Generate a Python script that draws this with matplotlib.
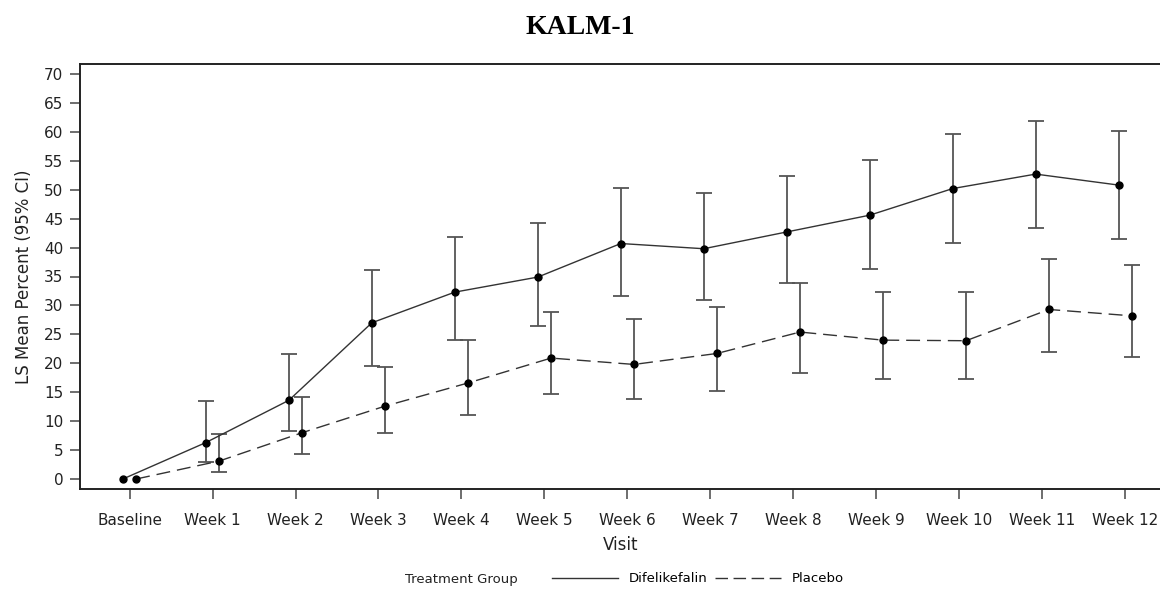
import numpy as np
import matplotlib
matplotlib.use("Agg")
from matplotlib import pyplot as plt
from matplotlib.lines import Line2D

visits = ["Baseline", "Week 1", "Week 2", "Week 3", "Week 4", "Week 5", "Week 6",
          "Week 7", "Week 8", "Week 9", "Week 10", "Week 11", "Week 12"]

# LS mean and 95% CI, difelikefalin
dif_mean = [0.0, 6.3, 13.6, 27.0, 32.3, 34.9, 40.7, 39.8, 42.7, 45.6, 50.2, 52.7, 50.8]
dif_low = [np.nan, 2.9, 8.3, 19.5, 24.0, 26.5, 31.7, 30.9, 33.8, 36.3, 40.8, 43.4, 41.5]
dif_high = [np.nan, 13.4, 21.6, 36.2, 41.8, 44.2, 50.3, 49.4, 52.3, 55.2, 59.6, 61.8, 60.1]

# placebo
pla_mean = [0.0, 3.1, 8.0, 12.6, 16.6, 20.9, 19.8, 21.7, 25.4, 24.0, 23.9, 29.3, 28.2]
pla_low = [np.nan, 1.2, 4.3, 8.0, 11.1, 14.7, 13.8, 15.2, 18.4, 17.2, 17.2, 21.9, 21.0]
pla_high = [np.nan, 7.7, 14.1, 19.4, 24.0, 28.8, 27.7, 29.7, 33.8, 32.4, 32.3, 38.1, 37.0]

plt.rcParams['font.family'] = ['DejaVu Sans']

fig = plt.figure(figsize=(11.6, 5.9), dpi=100)
ax = fig.add_axes([80/1160, 101/590, 1081/1160, 425/590])

x = np.arange(len(visits))
shift = 0.08
line_col = "#333333"
err_col = "#555555"


def draw(xs, mean, low, high, ls):
    mean = np.array(mean)
    yerr = np.vstack([mean - np.array(low), np.array(high) - mean])
    ax.errorbar(xs, mean, yerr=yerr, fmt="none", ecolor=err_col, elinewidth=1.3,
                capsize=6, capthick=1.3, zorder=2)
    ln, = ax.plot(xs, mean, color=line_col, lw=1.0, zorder=3)
    if ls == "dash":
        ln.set_dashes((10, 5))
    ax.plot(xs, mean, "o", color="black", ms=5, zorder=4)


draw(x - shift, dif_mean, dif_low, dif_high, "solid")
draw(x + shift, pla_mean, pla_low, pla_high, "dash")

ax.set_xlim(-0.597, 12.43)
ax.set_ylim(-1.73, 71.73)
ax.set_xticks(x)
ax.set_xticklabels(visits)
ax.set_yticks(np.arange(0, 71, 5))
ax.tick_params(axis="both", labelsize=11, length=7, width=1.2, color="#555555",
               labelcolor="#222222", pad=5)
ax.tick_params(axis="x", pad=10)
for s in ["left", "bottom", "top"]:
    ax.spines[s].set_linewidth(1.4)
    ax.spines[s].set_color("#222222")
ax.spines["right"].set_visible(False)

ax.set_xlabel("Visit", fontsize=12, color="#222222", labelpad=6)
ax.set_ylabel("LS Mean Percent (95% CI)", fontsize=12, color="#222222", labelpad=8)

fig.text(0.5, 1 - 27/590, "KALM-1", ha="center", va="center", fontsize=20,
         fontweight="bold", family="Liberation Serif")

# legend
fig.text(405/1160, 1 - 579/590, "Treatment Group", ha="left", va="center",
         fontsize=9.5, color="#222222")
h1 = Line2D([], [], color=line_col, lw=1.0)
h2 = Line2D([], [], color=line_col, lw=1.0, dashes=(9, 4))
fig.legend([h1, h2], ["Difelikefalin", "Placebo"], ncol=2, frameon=False,
           loc="center", bbox_to_anchor=(698/1160, 1 - 579/590), fontsize=9.5,
           handlelength=5, columnspacing=0.6, handletextpad=0.8)

fig.savefig("out.png", dpi=100)
